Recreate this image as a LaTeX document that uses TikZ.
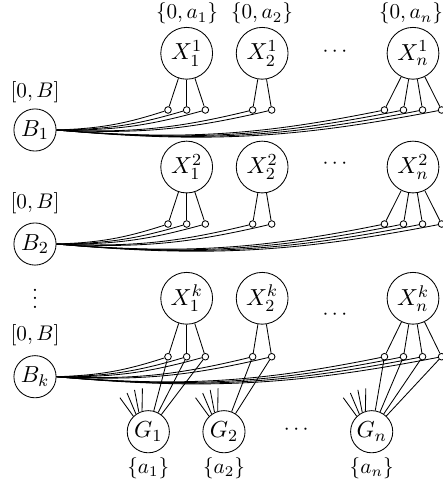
\documentclass[tikz,border=0pt]{standalone}
\usepackage{amsmath,amssymb}
\usepackage{tikz}
\usetikzlibrary{positioning}

\begin{document}
\begin{tikzpicture}[
  var/.style={draw, circle, inner sep=0pt, minimum size=0.86cm, font=\fontsize{11}{13}\selectfont},
  bvar/.style={draw, circle, inner sep=0pt, minimum size=0.70cm, font=\fontsize{11}{13}\selectfont},
  pino/.style={draw, circle, fill=white, inner sep=0pt, minimum size=0.11cm}]
% Fixando o tamanho da figura (o ultimo pino fica cortado):
\useasboundingbox (0,0) rectangle (7.354,8.151);
\clip (0,0) rectangle (7.354,8.151);

% Desenhando as linhas 1, 2 e k (variaveis X, pinos e B):
\foreach \r/\yx/\yp/\yb/\yl/\yd in {1/7.266/6.325/5.993/6.623/7.292,
    2/5.378/4.432/4.100/4.776/5.440, k/3.199/2.229/1.897/2.590/2.922}{
  \node[var] (X1\r) at (3.099,\yx) {$X_1^\r$};
  \node[var] (X2\r) at (4.352,\yx) {$X_2^\r$};
  \node[var] (Xn\r) at (6.856,\yx) {$X_n^\r$};
  \node (pts\r) at (5.589,\yd) {$\cdots$};
  \node[bvar] (B\r) at (0.581,\yb) {$B_\r$};
  \node (dom\r) at (0.581,\yl) {$[0,B]$};
  % pinos abaixo de cada X:
  \foreach \j/\x in {1/2.789, 2/3.099, 3/3.409}
    \node[pino] (p\r1\j) at (\x,\yp) {};
  \foreach \j/\x in {1/4.194, 2/4.510}
    \node[pino] (p\r2\j) at (\x,\yp) {};
  \foreach \j/\x in {1/6.382, 2/6.698, 3/7.014, 4/7.330}
    \node[pino] (p\r n\j) at (\x,\yp) {};
  % ligando X e B aos pinos:
  \foreach \i/\j in {1/1, 1/2, 1/3, 2/1, 2/2, n/1, n/2, n/3, n/4}{
    \draw (X\i\r) -- (p\r\i\j);
    \draw (B\r.east) to[bend right=8] (p\r\i\j);
  }
}

% Reticencias entre B_2 e B_k:
\node (vpts) at (0.581,3.300) {$\vdots$};

% Desenhando os conjuntos de cada X da primeira linha:
\node (val1) at (3.104,7.925) {$\{0,a_1\}$};
\node (val2) at (4.349,7.925) {$\{0,a_2\}$};
\node (valn) at (6.823,7.925) {$\{0,a_n\}$};

% Desenhando as variaveis G e seus conjuntos:
\foreach \i/\x in {1/2.462, 2/3.718, n/6.170}{
  \node[bvar] (G\i) at (\x,0.984) {$G_\i$};
  \node (set\i) at (\x,0.382) {$\{a_\i\}$};
  \foreach \a/\d in {134/126, 125/113, 116/101, 107/89}
    \draw (G\i.\a) -- +(\d:0.38);
}
\node (ptsG) at (4.947,1.013) {$\cdots$};

% Ligando G aos pinos da linha k:
\foreach \i/\j in {1/1, 1/2, 1/3, 2/1, 2/2, n/1, n/2, n/3, n/4}
  \draw (G\i) -- (pk\i\j);
\end{tikzpicture}
\end{document}
